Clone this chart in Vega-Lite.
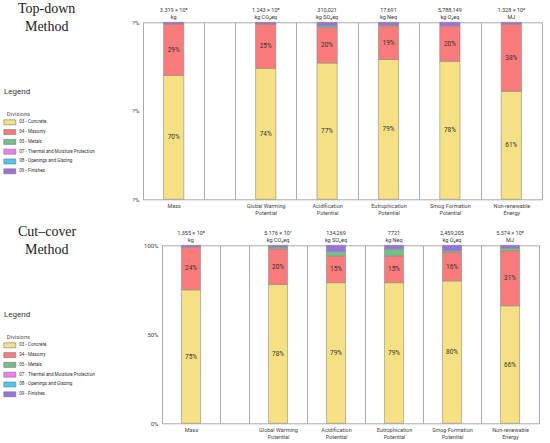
{
  "$schema": "https://vega.github.io/schema/vega-lite/v6.json",
  "padding": {"left": 0, "top": 2.3, "right": 0, "bottom": 0},
  "background": "white",
  "datasets": {
    "bars": [
      {"method": "Top-down", "impact": "Mass", "division": "03 - Concrete", "share": 0.70},
      {"method": "Top-down", "impact": "Mass", "division": "04 - Masonry", "share": 0.29},
      {"method": "Top-down", "impact": "Mass", "division": "09 - Finishes", "share": 0.01},
      {"method": "Top-down", "impact": "Global Warming Potential", "division": "03 - Concrete", "share": 0.74},
      {"method": "Top-down", "impact": "Global Warming Potential", "division": "04 - Masonry", "share": 0.25},
      {"method": "Top-down", "impact": "Global Warming Potential", "division": "09 - Finishes", "share": 0.01},
      {"method": "Top-down", "impact": "Acidification Potential", "division": "03 - Concrete", "share": 0.77},
      {"method": "Top-down", "impact": "Acidification Potential", "division": "04 - Masonry", "share": 0.20},
      {"method": "Top-down", "impact": "Acidification Potential", "division": "05 - Metals", "share": 0.01},
      {"method": "Top-down", "impact": "Acidification Potential", "division": "09 - Finishes", "share": 0.02},
      {"method": "Top-down", "impact": "Eutrophication Potential", "division": "03 - Concrete", "share": 0.79},
      {"method": "Top-down", "impact": "Eutrophication Potential", "division": "04 - Masonry", "share": 0.19},
      {"method": "Top-down", "impact": "Eutrophication Potential", "division": "05 - Metals", "share": 0.005},
      {"method": "Top-down", "impact": "Eutrophication Potential", "division": "09 - Finishes", "share": 0.015},
      {"method": "Top-down", "impact": "Smog Formation Potential", "division": "03 - Concrete", "share": 0.78},
      {"method": "Top-down", "impact": "Smog Formation Potential", "division": "04 - Masonry", "share": 0.20},
      {"method": "Top-down", "impact": "Smog Formation Potential", "division": "09 - Finishes", "share": 0.02},
      {"method": "Top-down", "impact": "Non-renewable Energy", "division": "03 - Concrete", "share": 0.61},
      {"method": "Top-down", "impact": "Non-renewable Energy", "division": "04 - Masonry", "share": 0.38},
      {"method": "Top-down", "impact": "Non-renewable Energy", "division": "09 - Finishes", "share": 0.01},
      {"method": "Cut–cover", "impact": "Mass", "division": "03 - Concrete", "share": 0.75},
      {"method": "Cut–cover", "impact": "Mass", "division": "04 - Masonry", "share": 0.24},
      {"method": "Cut–cover", "impact": "Mass", "division": "09 - Finishes", "share": 0.01},
      {"method": "Cut–cover", "impact": "Global Warming Potential", "division": "03 - Concrete", "share": 0.78},
      {"method": "Cut–cover", "impact": "Global Warming Potential", "division": "04 - Masonry", "share": 0.20},
      {"method": "Cut–cover", "impact": "Global Warming Potential", "division": "05 - Metals", "share": 0.01},
      {"method": "Cut–cover", "impact": "Global Warming Potential", "division": "09 - Finishes", "share": 0.01},
      {"method": "Cut–cover", "impact": "Acidification Potential", "division": "03 - Concrete", "share": 0.79},
      {"method": "Cut–cover", "impact": "Acidification Potential", "division": "04 - Masonry", "share": 0.15},
      {"method": "Cut–cover", "impact": "Acidification Potential", "division": "05 - Metals", "share": 0.025},
      {"method": "Cut–cover", "impact": "Acidification Potential", "division": "09 - Finishes", "share": 0.035},
      {"method": "Cut–cover", "impact": "Eutrophication Potential", "division": "03 - Concrete", "share": 0.79},
      {"method": "Cut–cover", "impact": "Eutrophication Potential", "division": "04 - Masonry", "share": 0.15},
      {"method": "Cut–cover", "impact": "Eutrophication Potential", "division": "05 - Metals", "share": 0.04},
      {"method": "Cut–cover", "impact": "Eutrophication Potential", "division": "09 - Finishes", "share": 0.02},
      {"method": "Cut–cover", "impact": "Smog Formation Potential", "division": "03 - Concrete", "share": 0.80},
      {"method": "Cut–cover", "impact": "Smog Formation Potential", "division": "04 - Masonry", "share": 0.16},
      {"method": "Cut–cover", "impact": "Smog Formation Potential", "division": "05 - Metals", "share": 0.01},
      {"method": "Cut–cover", "impact": "Smog Formation Potential", "division": "09 - Finishes", "share": 0.03},
      {"method": "Cut–cover", "impact": "Non-renewable Energy", "division": "03 - Concrete", "share": 0.66},
      {"method": "Cut–cover", "impact": "Non-renewable Energy", "division": "04 - Masonry", "share": 0.31},
      {"method": "Cut–cover", "impact": "Non-renewable Energy", "division": "05 - Metals", "share": 0.015},
      {"method": "Cut–cover", "impact": "Non-renewable Energy", "division": "09 - Finishes", "share": 0.015}
    ],
    "totals": [
      {"method": "Top-down", "impact": "Mass", "total": "3.319 × 10⁸", "unit": "kg"},
      {"method": "Top-down", "impact": "Global Warming Potential", "total": "1.243 × 10⁸", "unit": "kg CO₂eq"},
      {"method": "Top-down", "impact": "Acidification Potential", "total": "310,021", "unit": "kg SO₂eq"},
      {"method": "Top-down", "impact": "Eutrophication Potential", "total": "17,691", "unit": "kg Neq"},
      {"method": "Top-down", "impact": "Smog Formation Potential", "total": "5,788,149", "unit": "kg O₃eq"},
      {"method": "Top-down", "impact": "Non-renewable Energy", "total": "1.328 × 10⁹", "unit": "MJ"},
      {"method": "Cut–cover", "impact": "Mass", "total": "1.355 × 10⁸", "unit": "kg"},
      {"method": "Cut–cover", "impact": "Global Warming Potential", "total": "5.176 × 10⁷", "unit": "kg CO₂eq"},
      {"method": "Cut–cover", "impact": "Acidification Potential", "total": "134,269", "unit": "kg SO₂eq"},
      {"method": "Cut–cover", "impact": "Eutrophication Potential", "total": "7721", "unit": "kg Neq"},
      {"method": "Cut–cover", "impact": "Smog Formation Potential", "total": "2,459,205", "unit": "kg O₃eq"},
      {"method": "Cut–cover", "impact": "Non-renewable Energy", "total": "5.374 × 10⁸", "unit": "MJ"}
    ],
    "divisions": [
      {"division": "03 - Concrete"},
      {"division": "04 - Masonry"},
      {"division": "05 - Metals"},
      {"division": "07 - Thermal and Moisture Protection"},
      {"division": "08 - Openings and Glazing"},
      {"division": "09 - Finishes"}
    ]
  },
  "spacing": 8,
  "resolve": {
    "scale": {"x": "independent", "y": "independent"},
    "legend": {"color": "independent"}
  },
  "vconcat": [
    {
      "bounds": "flush",
      "spacing": 0,
      "resolve": {
        "scale": {"x": "independent", "y": "independent"},
        "legend": {"color": "independent"}
      },
      "hconcat": [
        {
          "width": 143,
          "height": 177,
          "view": {"stroke": null},
          "title": {
            "text": ["\u200b\u00a0\u00a0\u00a0\u00a0Top-down", "\u200b\u00a0\u00a0\u00a0\u00a0\u00a0\u00a0Method"],
            "subtitle": "Legend",
            "anchor": "start",
            "frame": "group",
            "dx": 4,
            "dy": 78.2
          },
          "data": {"name": "divisions"},
          "mark": {"type": "square", "opacity": 0},
          "encoding": {
            "color": {
              "field": "division",
              "type": "nominal",
              "scale": {
                "domain": ["03 - Concrete", "04 - Masonry", "05 - Metals", "07 - Thermal and Moisture Protection", "08 - Openings and Glazing", "09 - Finishes"],
                "range": ["#f5e183", "#fa7b7b", "#74be88", "#f27cf0", "#4cc8ee", "#9a72de"]
              },
              "legend": {"orient": "none", "legendX": 6.8, "legendY": 88.7, "title": "Divisions"}
            }
          }
        },
        {
          "width": 92,
          "height": 177,
          "encoding": {
            "x": {"field": "impact", "type": "nominal", "title": null, "scale": {"paddingInner": 0, "paddingOuter": 0.25, "align": 0}}
          },
          "layer": [
            {
              "data": {"name": "bars"},
              "transform": [{"filter": "datum.method == 'Top-down' && datum.impact == 'Mass'"}],
              "mark": {"type": "bar", "width": {"band": 0.33}, "stroke": "#8c8c8c", "strokeWidth": 0.6},
              "encoding": {
                "y": {"field": "share", "type": "quantitative", "stack": "zero", "title": null, "scale": {"domain": [0, 1], "nice": false},
                  "axis": {"values": [0, 0.5, 1], "labelExpr": "'?%'"}},
                "color": {"field": "division", "type": "nominal", "legend": null,
                  "scale": {
                    "domain": ["03 - Concrete", "04 - Masonry", "05 - Metals", "07 - Thermal and Moisture Protection", "08 - Openings and Glazing", "09 - Finishes"],
                    "range": ["#f5e183", "#fa7b7b", "#74be88", "#f27cf0", "#4cc8ee", "#9a72de"]
                  }},
                "order": {"field": "division"}
              }
            },
            {
              "data": {"name": "bars"},
              "transform": [{"filter": "datum.method == 'Top-down' && datum.impact == 'Mass' && (datum.division == '03 - Concrete' || datum.division == '04 - Masonry')"}],
              "mark": {"type": "text", "fontSize": 6.5},
              "encoding": {
                "y": {"field": "share", "type": "quantitative", "stack": "zero", "bandPosition": 0.5, "title": null},
                "detail": {"field": "division"},
                "order": {"field": "division"},
                "text": {"field": "share", "format": ".0%"}
              }
            },
            {
              "data": {"name": "totals"},
              "transform": [{"filter": "datum.method == 'Top-down' && datum.impact == 'Mass'"}],
              "mark": {"type": "text", "dy": -12.7},
              "encoding": {"y": {"datum": 1, "type": "quantitative", "title": null}, "text": {"field": "total"}}
            },
            {
              "data": {"name": "totals"},
              "transform": [{"filter": "datum.method == 'Top-down' && datum.impact == 'Mass'"}],
              "mark": {"type": "text", "dy": -5.4},
              "encoding": {"y": {"datum": 1, "type": "quantitative", "title": null}, "text": {"field": "unit"}}
            }
          ]
        },
        {
          "width": 307,
          "height": 177,
          "encoding": {
            "x": {"field": "impact", "type": "nominal", "title": null,
              "sort": ["Global Warming Potential", "Acidification Potential", "Eutrophication Potential", "Smog Formation Potential", "Non-renewable Energy"],
              "scale": {"paddingInner": 0, "paddingOuter": 0}}
          },
          "layer": [
            {
              "data": {"name": "bars"},
              "transform": [{"filter": "datum.method == 'Top-down' && datum.impact != 'Mass'"}],
              "mark": {"type": "bar", "width": {"band": 0.33}, "stroke": "#8c8c8c", "strokeWidth": 0.6},
              "encoding": {
                "y": {"field": "share", "type": "quantitative", "stack": "zero", "title": null, "scale": {"domain": [0, 1], "nice": false}, "axis": null},
                "color": {"field": "division", "type": "nominal", "legend": null,
                  "scale": {
                    "domain": ["03 - Concrete", "04 - Masonry", "05 - Metals", "07 - Thermal and Moisture Protection", "08 - Openings and Glazing", "09 - Finishes"],
                    "range": ["#f5e183", "#fa7b7b", "#74be88", "#f27cf0", "#4cc8ee", "#9a72de"]
                  }},
                "order": {"field": "division"}
              }
            },
            {
              "data": {"name": "bars"},
              "transform": [{"filter": "datum.method == 'Top-down' && datum.impact != 'Mass' && (datum.division == '03 - Concrete' || datum.division == '04 - Masonry')"}],
              "mark": {"type": "text", "fontSize": 6.5},
              "encoding": {
                "y": {"field": "share", "type": "quantitative", "stack": "zero", "bandPosition": 0.5, "title": null, "axis": null},
                "detail": {"field": "division"},
                "order": {"field": "division"},
                "text": {"field": "share", "format": ".0%"}
              }
            },
            {
              "data": {"name": "totals"},
              "transform": [{"filter": "datum.method == 'Top-down' && datum.impact != 'Mass'"}],
              "mark": {"type": "text", "dy": -12.7},
              "encoding": {"y": {"datum": 1, "type": "quantitative", "title": null, "axis": null}, "text": {"field": "total"}}
            },
            {
              "data": {"name": "totals"},
              "transform": [{"filter": "datum.method == 'Top-down' && datum.impact != 'Mass'"}],
              "mark": {"type": "text", "dy": -5.4},
              "encoding": {"y": {"datum": 1, "type": "quantitative", "title": null, "axis": null}, "text": {"field": "unit"}}
            }
          ]
        }
      ]
    },
    {
      "bounds": "flush",
      "spacing": 0,
      "resolve": {
        "scale": {"x": "independent", "y": "independent"},
        "legend": {"color": "independent"}
      },
      "hconcat": [
        {
          "width": 162,
          "height": 178,
          "view": {"stroke": null},
          "title": {
            "text": ["\u200b\u00a0\u00a0\u00a0\u00a0Cut–cover", "\u200b\u00a0\u00a0\u00a0\u00a0\u00a0\u00a0Method"],
            "subtitle": "Legend",
            "anchor": "start",
            "frame": "group",
            "dx": 4,
            "dy": 78.2
          },
          "data": {"name": "divisions"},
          "mark": {"type": "square", "opacity": 0},
          "encoding": {
            "color": {
              "field": "division",
              "type": "nominal",
              "scale": {
                "domain": ["03 - Concrete", "04 - Masonry", "05 - Metals", "07 - Thermal and Moisture Protection", "08 - Openings and Glazing", "09 - Finishes"],
                "range": ["#f5e183", "#fa7b7b", "#74be88", "#f27cf0", "#4cc8ee", "#9a72de"]
              },
              "legend": {"orient": "none", "legendX": 6.8, "legendY": 88.7, "title": "Divisions"}
            }
          }
        },
        {
          "width": 87,
          "height": 178,
          "encoding": {
            "x": {"field": "impact", "type": "nominal", "title": null, "scale": {"paddingInner": 0, "paddingOuter": 0.25, "align": 0}}
          },
          "layer": [
            {
              "data": {"name": "bars"},
              "transform": [{"filter": "datum.method == 'Cut–cover' && datum.impact == 'Mass'"}],
              "mark": {"type": "bar", "width": {"band": 0.33}, "stroke": "#8c8c8c", "strokeWidth": 0.6},
              "encoding": {
                "y": {"field": "share", "type": "quantitative", "stack": "zero", "title": null, "scale": {"domain": [0, 1], "nice": false},
                  "axis": {"values": [0, 0.5, 1], "format": ".0%"}},
                "color": {"field": "division", "type": "nominal", "legend": null,
                  "scale": {
                    "domain": ["03 - Concrete", "04 - Masonry", "05 - Metals", "07 - Thermal and Moisture Protection", "08 - Openings and Glazing", "09 - Finishes"],
                    "range": ["#f5e183", "#fa7b7b", "#74be88", "#f27cf0", "#4cc8ee", "#9a72de"]
                  }},
                "order": {"field": "division"}
              }
            },
            {
              "data": {"name": "bars"},
              "transform": [{"filter": "datum.method == 'Cut–cover' && datum.impact == 'Mass' && (datum.division == '03 - Concrete' || datum.division == '04 - Masonry')"}],
              "mark": {"type": "text", "fontSize": 6.5},
              "encoding": {
                "y": {"field": "share", "type": "quantitative", "stack": "zero", "bandPosition": 0.5, "title": null},
                "detail": {"field": "division"},
                "order": {"field": "division"},
                "text": {"field": "share", "format": ".0%"}
              }
            },
            {
              "data": {"name": "totals"},
              "transform": [{"filter": "datum.method == 'Cut–cover' && datum.impact == 'Mass'"}],
              "mark": {"type": "text", "dy": -12.7},
              "encoding": {"y": {"datum": 1, "type": "quantitative", "title": null}, "text": {"field": "total"}}
            },
            {
              "data": {"name": "totals"},
              "transform": [{"filter": "datum.method == 'Cut–cover' && datum.impact == 'Mass'"}],
              "mark": {"type": "text", "dy": -5.4},
              "encoding": {"y": {"datum": 1, "type": "quantitative", "title": null}, "text": {"field": "unit"}}
            }
          ]
        },
        {
          "width": 290,
          "height": 178,
          "encoding": {
            "x": {"field": "impact", "type": "nominal", "title": null,
              "sort": ["Global Warming Potential", "Acidification Potential", "Eutrophication Potential", "Smog Formation Potential", "Non-renewable Energy"],
              "scale": {"paddingInner": 0, "paddingOuter": 0}}
          },
          "layer": [
            {
              "data": {"name": "bars"},
              "transform": [{"filter": "datum.method == 'Cut–cover' && datum.impact != 'Mass'"}],
              "mark": {"type": "bar", "width": {"band": 0.33}, "stroke": "#8c8c8c", "strokeWidth": 0.6},
              "encoding": {
                "y": {"field": "share", "type": "quantitative", "stack": "zero", "title": null, "scale": {"domain": [0, 1], "nice": false}, "axis": null},
                "color": {"field": "division", "type": "nominal", "legend": null,
                  "scale": {
                    "domain": ["03 - Concrete", "04 - Masonry", "05 - Metals", "07 - Thermal and Moisture Protection", "08 - Openings and Glazing", "09 - Finishes"],
                    "range": ["#f5e183", "#fa7b7b", "#74be88", "#f27cf0", "#4cc8ee", "#9a72de"]
                  }},
                "order": {"field": "division"}
              }
            },
            {
              "data": {"name": "bars"},
              "transform": [{"filter": "datum.method == 'Cut–cover' && datum.impact != 'Mass' && (datum.division == '03 - Concrete' || datum.division == '04 - Masonry')"}],
              "mark": {"type": "text", "fontSize": 6.5},
              "encoding": {
                "y": {"field": "share", "type": "quantitative", "stack": "zero", "bandPosition": 0.5, "title": null, "axis": null},
                "detail": {"field": "division"},
                "order": {"field": "division"},
                "text": {"field": "share", "format": ".0%"}
              }
            },
            {
              "data": {"name": "totals"},
              "transform": [{"filter": "datum.method == 'Cut–cover' && datum.impact != 'Mass'"}],
              "mark": {"type": "text", "dy": -12.7},
              "encoding": {"y": {"datum": 1, "type": "quantitative", "title": null, "axis": null}, "text": {"field": "total"}}
            },
            {
              "data": {"name": "totals"},
              "transform": [{"filter": "datum.method == 'Cut–cover' && datum.impact != 'Mass'"}],
              "mark": {"type": "text", "dy": -5.4},
              "encoding": {"y": {"datum": 1, "type": "quantitative", "title": null, "axis": null}, "text": {"field": "unit"}}
            }
          ]
        }
      ]
    }
  ],
  "config": {
    "view": {"stroke": "#ababab", "strokeWidth": 1},
    "axis": {"labelFont": "Roboto", "labelColor": "#444", "labelFontSize": 5.5, "ticks": false, "domain": false, "grid": false},
    "axisX": {
      "grid": true, "tickBand": "extent", "gridColor": "#ababab", "gridOpacity": 1, "gridWidth": 1,
      "labelAngle": 0, "labelPadding": 4, "labelLineHeight": 7.5, "labelBaseline": "top",
      "labelExpr": "lastindexof(datum.label, ' ') < 0 ? datum.label : [slice(datum.label, 0, lastindexof(datum.label, ' ')), slice(datum.label, lastindexof(datum.label, ' ') + 1)]"
    },
    "axisY": {"labelPadding": 4, "labelFontSize": 6},
    "text": {"font": "Roboto", "fontSize": 5.5, "fill": "#333", "baseline": "middle"},
    "title": {
      "font": "Liberation Serif", "fontSize": 14, "fontWeight": "normal", "color": "#1a1a1a", "lineHeight": 17.4,
      "subtitleFont": "Roboto", "subtitleFontSize": 8, "subtitleColor": "#333", "subtitlePadding": 54.6, "offset": 0
    },
    "legend": {
      "padding": 0, "titleFont": "Roboto", "titleFontSize": 5.8, "titleFontWeight": "normal", "titleColor": "#555", "titlePadding": 2.5,
      "labelFont": "Roboto", "labelFontSize": 4.6, "labelColor": "#333", "labelOffset": 6.5,
      "symbolType": "M-2.4,-1H2.4V1H-2.4Z", "symbolSize": 25, "symbolStrokeColor": "#777", "symbolStrokeWidth": 0.6, "symbolOpacity": 1, "rowPadding": 1.8
    }
  }
}
